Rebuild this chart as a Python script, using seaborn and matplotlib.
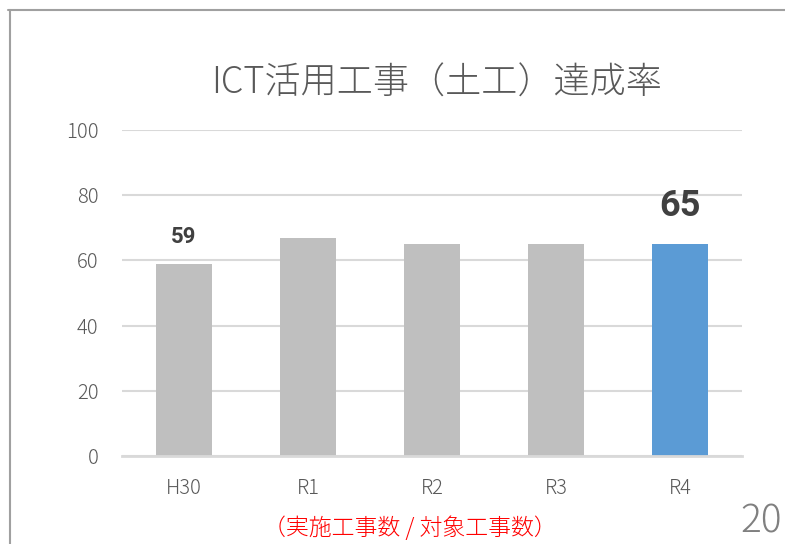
import matplotlib
matplotlib.use("Agg")
import matplotlib.pyplot as plt
from matplotlib.lines import Line2D
import seaborn as sns

# Data
categories = ["H30", "R1", "R2", "R3", "R4"]
rates = [59, 67, 65, 65, 65]
bar_colors = ["#bfbfbf", "#bfbfbf", "#bfbfbf", "#bfbfbf", "#5b9bd5"]
labeled = {"H30": 16, "R4": 26}   # category -> label font size
yticks = [0, 20, 40, 60, 80, 100]

title = "ICT活用工事（土工）達成率"
note = "（実施工事数 / 対象工事数）"
page_no = "20"

sns.set_theme(style="white")
plt.rcParams["font.family"] = ["Noto Sans CJK JP", "DejaVu Sans"]
plt.rcParams["font.weight"] = "light"

fig = plt.figure(figsize=(7.85, 5.44), dpi=100)
ax = fig.add_axes([122 / 785, 1 - 456 / 544, 620 / 785, 326 / 544])

sns.barplot(x=categories, y=rates, hue=categories, palette=bar_colors,
            width=0.45, legend=False, saturation=1, linewidth=0, ax=ax)

ax.set_ylim(0, 100)
ax.set_yticks(yticks)
ax.set_yticklabels([str(t) for t in yticks])
ax.yaxis.grid(True, color="#d9d9d9", linewidth=1.5)
ax.set_axisbelow(True)
for side in ("top", "right", "left"):
    ax.spines[side].set_visible(False)
ax.spines["bottom"].set_color("#d9d9d9")
ax.spines["bottom"].set_linewidth(2)
ax.tick_params(axis="both", length=0, labelsize=14.5, labelcolor="#595959")
ax.tick_params(axis="x", pad=16)
ax.tick_params(axis="y", pad=17)
ax.set_xlabel("")
ax.set_ylabel("")

# Value labels on selected bars
for i, (cat, val) in enumerate(zip(categories, rates)):
    if cat in labeled:
        size = labeled[cat]
        offset = 15 if size < 20 else 20
        ax.annotate(str(val), xy=(i, val), xytext=(0, offset),
                    textcoords="offset points", ha="center", va="baseline",
                    fontsize=size, fontweight="bold", color="#404040",
                    family=["Roboto", "DejaVu Sans"])

# Title, note and page number
fig.text(437 / 785, 1 - 83 / 544, title, ha="center", va="center",
         fontsize=26, color="#595959")
fig.text(410 / 785, 1 - 528 / 544, note, ha="center", va="center",
         fontsize=16.5, color="#ff0000")
fig.text(761 / 785, 1 - 522 / 544, page_no, ha="center", va="center",
         fontsize=28, color="#808080")

# Slide frame lines
fig.add_artist(Line2D([8 / 785, 1], [1 - 10 / 544, 1 - 10 / 544],
                      transform=fig.transFigure, color="#a0a0a0", linewidth=1.5))
fig.add_artist(Line2D([10 / 785, 10 / 785], [0, 1 - 10 / 544],
                      transform=fig.transFigure, color="#a0a0a0", linewidth=1.5))

fig.savefig("out.png", dpi=100)
